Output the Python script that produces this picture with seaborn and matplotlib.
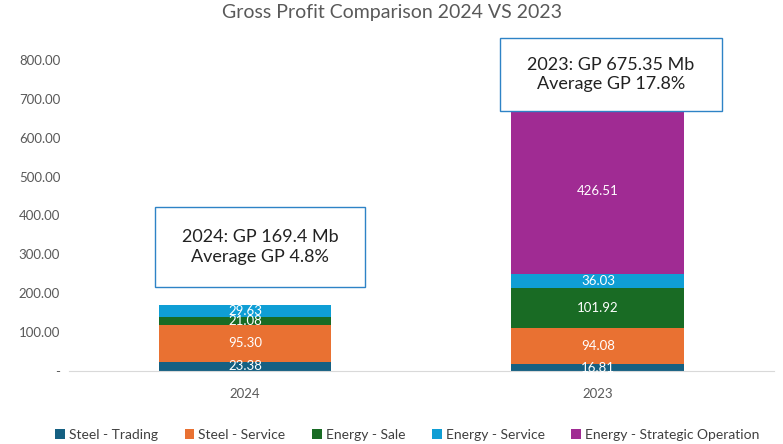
import matplotlib
matplotlib.use("Agg")
import numpy as np
import matplotlib.pyplot as plt
import seaborn as sns
from matplotlib.patches import Rectangle

# data
years = ["2024", "2023"]
segments = ["Steel - Trading", "Steel - Service", "Energy - Sale",
            "Energy - Service", "Energy - Strategic Operation"]
steel_trading = [23.38, 16.81]
steel_service = [95.30, 94.08]
energy_sale = [21.08, 101.92]
energy_service = [29.63, 36.03]
energy_strategic = [0.0, 426.51]
colors = ["#156082", "#E97132", "#196B24", "#0F9ED5", "#A02B93"]
box_texts = ["2024: GP 169.4 Mb\nAverage GP 4.8%", "2023: GP 675.35 Mb\nAverage GP 17.8%"]

sns.set_style("white")
plt.rcParams["font.family"] = ["Lato", "DejaVu Sans"]

fig = plt.figure(figsize=(7.83, 4.44), dpi=100)
ax = fig.add_axes([0.0875, 0.1644, 0.9015, 0.7006])

series = [steel_trading, steel_service, energy_sale, energy_service, energy_strategic]
bottom = np.zeros(len(years))
for name, vals, c in zip(segments, series, colors):
    vals = np.array(vals)
    sns.barplot(x=years, y=vals, bottom=bottom, color=c, width=0.49,
                label=name, ax=ax, saturation=1, linewidth=0)
    for i, v in enumerate(vals):
        if v > 0:
            ax.text(i, bottom[i] + v / 2, f"{v:.2f}", ha="center", va="center",
                    color="white", fontsize=9.5)
    bottom += vals

ax.set_ylim(0, 800)
ax.set_xlim(-0.5, 1.5)
ax.set_yticks(np.arange(0, 801, 100))
ax.set_yticklabels(["-"] + [f"{v:.2f}" for v in range(100, 801, 100)])
ax.tick_params(axis="both", colors="#595959", labelsize=9.5, length=0)
ax.tick_params(axis="y", pad=6)
ax.tick_params(axis="x", pad=12)
for s in ["top", "right", "left"]:
    ax.spines[s].set_visible(False)
ax.spines["bottom"].set_color("#d9d9d9")

fig.suptitle("Gross Profit Comparison 2024 VS 2023", y=0.99, fontsize=14,
             color="#595959")

# annotation boxes (pixel positions -> figure fraction)
W, H = 783, 444
for (x0, y0, x1, y1), txt in zip([(155, 207, 365, 287), (500, 38, 722, 111)], box_texts):
    fig.patches.append(Rectangle((x0 / W, 1 - y1 / H), (x1 - x0) / W, (y1 - y0) / H,
                                 transform=fig.transFigure, facecolor="white",
                                 edgecolor="#2E83C6", linewidth=1.0, zorder=5))
    fig.text((x0 + x1) / 2 / W, 1 - (y0 + y1) / 2 / H, txt, ha="center", va="center",
             fontsize=13, color="#222222", zorder=6, linespacing=1.3)

ax.legend(loc="upper center", bbox_to_anchor=(0.48, -0.145), ncol=5, frameon=False,
          fontsize=10, handlelength=0.7, handleheight=0.7, handletextpad=0.3,
          columnspacing=1.9, labelcolor="#404040")

fig.savefig("out.png", dpi=100)
